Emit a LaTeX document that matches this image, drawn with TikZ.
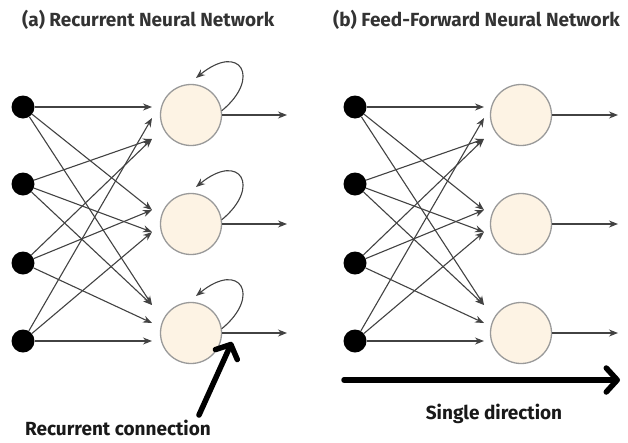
\documentclass[tikz,border=0pt]{standalone}
\usepackage{fontspec}
\setmainfont{Fira Sans}
\usetikzlibrary{arrows.meta}

\definecolor{cellfill}{HTML}{FDF3E4}
\definecolor{cellline}{HTML}{9A9A9A}
\definecolor{wire}{HTML}{424242}

\tikzset{
	unit/.style={circle,fill=black,inner sep=0pt,minimum size=23pt},
	cell/.style={circle,draw=cellline,fill=cellfill,line width=1.3pt,inner sep=0pt,minimum size=61pt},
	wirearrow/.style={draw=wire,line width=1.1pt,-{Stealth[length=9pt,width=7pt]}},
	bigarrow/.style={line width=5.5pt,line cap=round,-{Straight Barb[length=11pt,width=24pt,round]}},
	title/.style={font=\bfseries\fontsize{19}{22}\selectfont,text=black!80,inner sep=0pt},
	caption/.style={font=\bfseries\fontsize{19}{22}\selectfont,text=black!90,inner sep=0pt}
}

\begin{document}
\begin{tikzpicture}[x=1pt,y=-1pt]
			%%%%% START %%%%%
			\useasboundingbox (0,0) rectangle (628,442);
			
			\node[title,anchor=west] (rnntitle) at (22,20) {(a) Recurrent Neural Network};
			\node[title,anchor=west] (ffntitle) at (333,20) {(b) Feed-Forward Neural Network};
			
			%% recurrent net: inputs, cells, arrow ends
			\node[unit] (ia1) at (23,107) {};
			\node[unit] (ia2) at (23,184) {};
			\node[unit] (ia3) at (23,263) {};
			\node[unit] (ia4) at (23,341) {};
			
			\node[cell] (ha1) at (191,115) {};
			\node[cell] (ha2) at (191,224) {};
			\node[cell] (ha3) at (191,333) {};
			
			\coordinate (ta1a) at (152,107);
			\coordinate (ta1b) at (152,118);
			\coordinate (ta1c) at (152,139);
			\coordinate (ta2a) at (152,210);
			\coordinate (ta2b) at (152,232);
			\coordinate (ta3a) at (152,305);
			\coordinate (ta3b) at (152,323);
			\coordinate (ta3c) at (152,341);
			
			\draw[wirearrow] (ia1) -- (ta1a);
			\draw[wirearrow] (ia2) -- (ta1c);
			\draw[wirearrow] (ia3) -- (ta1c);
			\draw[wirearrow] (ia4) -- (ta1b);
			\draw[wirearrow] (ia1) -- (ta2a);
			\draw[wirearrow] (ia3) -- (ta2a);
			\draw[wirearrow] (ia2) -- (ta2b);
			\draw[wirearrow] (ia4) -- (ta2b);
			\draw[wirearrow] (ia1) -- (ta3a);
			\draw[wirearrow] (ia2) -- (ta3a);
			\draw[wirearrow] (ia3) -- (ta3b);
			\draw[wirearrow] (ia4) -- (ta3c);
			
			\coordinate (oa1) at (287,115);
			\coordinate (oa2) at (287,224);
			\coordinate (oa3) at (287,333);
			\draw[wirearrow] (ha1) -- (oa1);
			\draw[wirearrow] (ha2) -- (oa2);
			\draw[wirearrow] (ha3) -- (oa3);
			
			% self loops on the cells
			\coordinate (la1) at (196,78);
			\coordinate (la2) at (196,187);
			\coordinate (la3) at (196,296);
			\draw[wirearrow] (ha1.8) .. controls +(40,-33) and +(44,-36) .. (la1);
			\draw[wirearrow] (ha2.8) .. controls +(40,-33) and +(44,-36) .. (la2);
			\draw[wirearrow] (ha3.8) .. controls +(40,-33) and +(44,-36) .. (la3);
			
			\node[caption] (rclabel) at (118,428) {Recurrent connection};
			\coordinate (rcstart) at (199,415);
			\coordinate (rcend) at (232,342);
			\draw[bigarrow] (rcstart) -- (rcend);
			
			%% feed-forward net
			\node[unit] (ib1) at (355,107) {};
			\node[unit] (ib2) at (355,184) {};
			\node[unit] (ib3) at (355,263) {};
			\node[unit] (ib4) at (355,341) {};
			
			\node[cell] (hb1) at (521,115) {};
			\node[cell] (hb2) at (521,224) {};
			\node[cell] (hb3) at (521,333) {};
			
			\coordinate (tb1a) at (484,107);
			\coordinate (tb1b) at (484,118);
			\coordinate (tb1c) at (484,139);
			\coordinate (tb2a) at (484,210);
			\coordinate (tb2b) at (484,232);
			\coordinate (tb3a) at (484,305);
			\coordinate (tb3b) at (484,323);
			\coordinate (tb3c) at (484,341);
			
			\draw[wirearrow] (ib1) -- (tb1a);
			\draw[wirearrow] (ib2) -- (tb1c);
			\draw[wirearrow] (ib3) -- (tb1c);
			\draw[wirearrow] (ib4) -- (tb1b);
			\draw[wirearrow] (ib1) -- (tb2a);
			\draw[wirearrow] (ib3) -- (tb2a);
			\draw[wirearrow] (ib2) -- (tb2b);
			\draw[wirearrow] (ib4) -- (tb2b);
			\draw[wirearrow] (ib1) -- (tb3a);
			\draw[wirearrow] (ib2) -- (tb3a);
			\draw[wirearrow] (ib3) -- (tb3b);
			\draw[wirearrow] (ib4) -- (tb3c);
			
			\coordinate (ob1) at (618,115);
			\coordinate (ob2) at (618,224);
			\coordinate (ob3) at (618,333);
			\draw[wirearrow] (hb1) -- (ob1);
			\draw[wirearrow] (hb2) -- (ob2);
			\draw[wirearrow] (hb3) -- (ob3);
			
			\coordinate (sdstart) at (344,380);
			\coordinate (sdend) at (620,380);
			\draw[bigarrow] (sdstart) -- (sdend);
			\node[caption] (sdlabel) at (494,414) {Single direction};
			%%%%% END %%%%%
\end{tikzpicture}
\end{document}
